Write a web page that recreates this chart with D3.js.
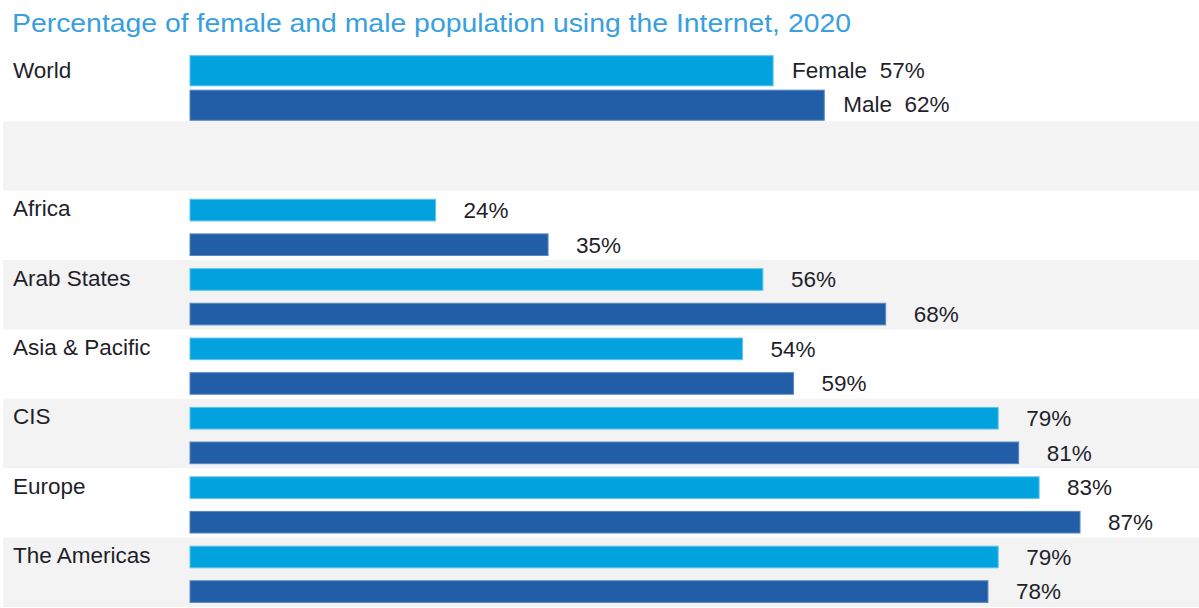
<!DOCTYPE html>
<html>
<head>
<meta charset="utf-8">
<script src="https://cdn.jsdelivr.net/npm/d3@7"></script>
<style>
  html, body { margin: 0; padding: 0; background: #ffffff; }
  svg { display: block; font-family: "Liberation Sans", Arial, sans-serif; }
</style>
</head>
<body>
<svg id="chart" width="1199" height="608"></svg>
<script>
// Internet use by sex, 2020 (% of population)
const regions = ["Africa", "Arab States", "Asia & Pacific", "CIS", "Europe", "The Americas"];
const femaleValues = [24, 56, 54, 79, 83, 79];
const maleValues = [35, 68, 59, 81, 87, 78];
const worldFemale = 57;
const worldMale = 62;
const seriesNames = ["Female", "Male"];

const W = 1199, H = 608;
const svg = d3.select("#chart");

const colors = { Female: "#02a2df", Male: "#225ea8" };
const edge = { Female: "#5cc3ee", Male: "#5b86c4" };

// Row layout: World, a blank spacer row, then the regions
const rows = ["World", "__gap", ...regions];
const y = d3.scaleBand().domain(rows).range([52, 607]).paddingInner(0).paddingOuter(0);

// Horizontal value scale shared by every bar
const x = d3.scaleLinear().domain([0, 100]).range([190, 1213]);

// Alternating row backgrounds
svg.append("g").selectAll("rect")
  .data(rows.filter((d, i) => i % 2 === 1))
  .join("rect")
  .attr("x", 3)
  .attr("y", d => y(d))
  .attr("width", W - 3)
  .attr("height", y.bandwidth())
  .attr("fill", "#f3f3f3");

// Title
svg.append("text")
  .attr("x", 12)
  .attr("y", 31.5)
  .attr("fill", "#38a0de")
  .attr("font-size", 26.5)
  .attr("textLength", 839)
  .attr("lengthAdjust", "spacingAndGlyphs")
  .text("Percentage of female and male population using the Internet, 2020");

// Inner scales for the pair of bars in each row
const innerWorld = d3.scaleBand().domain(seriesNames).range([0, y.bandwidth()])
  .paddingInner(0.125).paddingOuter(0.07).align(0.77);
const innerRegion = d3.scaleBand().domain(seriesNames).range([0, y.bandwidth()])
  .paddingInner(0.375).paddingOuter(0.19).align(0.65);

const textColor = "#1f1f2b";
const fontSize = 22.5;

// World row
const worldData = [
  { s: "Female", v: worldFemale },
  { s: "Male", v: worldMale }
];
const gw = svg.append("g").attr("transform", `translate(0,${y("World")})`);
gw.selectAll("rect").data(worldData).join("rect")
  .attr("x", x(0))
  .attr("y", d => innerWorld(d.s))
  .attr("width", d => x(d.v) - x(0))
  .attr("height", innerWorld.bandwidth())
  .attr("fill", d => colors[d.s])
  .attr("stroke", d => edge[d.s])
  .attr("stroke-width", 1);
gw.selectAll("text.val").data(worldData).join("text")
  .attr("class", "val")
  .attr("x", d => x(d.v) + 19)
  .attr("y", d => innerWorld(d.s) + innerWorld.bandwidth() / 2 + 7)
  .attr("font-size", fontSize)
  .attr("fill", textColor)
  .attr("xml:space", "preserve")
  .text(d => `${d.s}  ${d.v}%`);
gw.append("text")
  .attr("x", 13)
  .attr("y", innerWorld("Female") + innerWorld.bandwidth() / 2 + 7)
  .attr("font-size", fontSize)
  .attr("fill", textColor)
  .text("World");

// Regional rows
const regionData = regions.map((r, i) => ({
  region: r,
  bars: [
    { s: "Female", v: femaleValues[i] },
    { s: "Male", v: maleValues[i] }
  ]
}));

const gr = svg.append("g").selectAll("g.region").data(regionData).join("g")
  .attr("class", "region")
  .attr("transform", d => `translate(0,${y(d.region)})`);

gr.append("text")
  .attr("x", 13)
  .attr("y", 25.5)
  .attr("font-size", fontSize)
  .attr("fill", textColor)
  .text(d => d.region);

gr.selectAll("rect").data(d => d.bars).join("rect")
  .attr("x", x(0))
  .attr("y", d => innerRegion(d.s))
  .attr("width", d => x(d.v) - x(0))
  .attr("height", innerRegion.bandwidth())
  .attr("fill", d => colors[d.s])
  .attr("stroke", d => edge[d.s])
  .attr("stroke-width", 1);

gr.selectAll("text.val").data(d => d.bars).join("text")
  .attr("class", "val")
  .attr("x", d => x(d.v) + 28)
  .attr("y", d => innerRegion(d.s) + innerRegion.bandwidth() / 2 + 7.8)
  .attr("font-size", fontSize)
  .attr("fill", textColor)
  .text(d => `${d.v}%`);
</script>
</body>
</html>
